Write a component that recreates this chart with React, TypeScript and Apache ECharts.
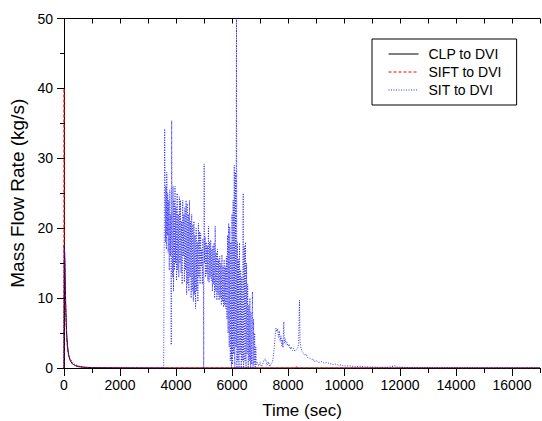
import React, { useEffect, useRef } from "react";
import * as echarts from "echarts";

// Time (sec) / mass flow (kg/s) pairs
const clpTime = [0, 8, 15, 25, 35, 45, 60, 80, 100, 130, 160, 200, 250, 300, 400, 500, 700, 1000, 2000, 4000, 8000, 12000, 17000];
const clpFlow = [0, 17.6, 17.4, 16.2, 14.5, 12, 9, 6.5, 4.5, 3, 2, 1.3, 0.9, 0.6, 0.35, 0.2, 0.1, 0.05, 0.02, 0, 0, 0, 0];

const siftTime = [0, 3, 6, 12, 20, 30, 45, 60, 80, 100, 130, 170, 220, 300, 400, 600, 1000, 3000, 8200, 8300, 8400, 12000, 17000];
const siftFlow = [0, 40, 17.5, 17, 16.5, 15, 12, 9, 6, 4, 2.6, 1.7, 1.1, 0.6, 0.35, 0.15, 0.05, 0.02, 0, 0.15, 0, 0, 0];

const sitTime = [
  0, 10, 20, 35, 50, 70, 90, 120, 150, 200, 260, 350, 500, 800, 1500, 3000, 3560, 3585,
  3595, 3610, 3625, 3640, 3655, 3670, 3690, 3705, 3720, 3740, 3760, 3780, 3800, 3815, 3830, 3845,
  3860, 3880, 3895, 3910, 3930, 3950, 3965, 3985, 4000, 4020, 4040, 4060, 4080, 4100, 4120, 4140,
  4160, 4180, 4200, 4220, 4240, 4260, 4280, 4300, 4320, 4340, 4360, 4380, 4400, 4420, 4440, 4460,
  4480, 4500, 4520, 4540, 4560, 4580, 4600, 4620, 4640, 4660, 4680, 4700, 4720, 4740, 4760, 4780,
  4800, 4820, 4840, 4860, 4880, 4900, 4920, 4940, 4960, 4980, 4990, 5000, 5005, 5020, 5040, 5060,
  5080, 5100, 5120, 5140, 5160, 5180, 5200, 5220, 5240, 5260, 5280, 5300, 5320, 5340, 5360, 5380,
  5400, 5420, 5440, 5460, 5480, 5500, 5520, 5540, 5560, 5580, 5600, 5620, 5640, 5660, 5680, 5700,
  5720, 5740, 5760, 5780, 5800, 5820, 5840, 5860, 5880, 5900, 5920, 5940, 5960, 5980, 6000, 6020,
  6040, 6060, 6080, 6100, 6120, 6140, 6160, 6175, 6190, 6210, 6230, 6250, 6270, 6290, 6310, 6330,
  6350, 6370, 6400, 6415, 6440, 6460, 6480, 6500, 6520, 6540, 6560, 6580, 6600, 6620, 6640, 6660,
  6680, 6700, 6730, 6750, 6770, 6790, 6810, 6830, 6850, 6870, 6900, 6950, 7000, 7050, 7100, 7150,
  7200, 7250, 7300, 7350, 7400, 7450, 7500, 7540, 7570, 7600, 7630, 7660, 7690, 7720, 7750, 7780,
  7800, 7820, 7850, 7870, 7900, 7930, 7960, 8000, 8040, 8080, 8120, 8160, 8200, 8250, 8300, 8350,
  8380, 8410, 8430, 8460, 8500, 8550, 8600, 8650, 8700, 8770, 8850, 8900, 8950, 9000, 9100, 9200,
  9300, 9400, 9500, 9600, 9700, 9800, 9900, 10000, 10200, 10400, 10600, 10800, 11000, 11300, 11600, 11800,
  11900, 12200, 12600, 13000, 13500, 14000, 15000, 16000, 17000,
];
const sitFlow = [
  0, 17.5, 16, 13, 10.5, 7.5, 5, 3.2, 2.2, 1.4, 1.1, 0.6, 0.3, 0.1, 0.03, 0, 0, 0,
  34.2, 27, 18, 26, 17, 28, 19, 25, 16.5, 24, 14, 25.5, 16, 22, 3.3, 35.4,
  20, 13, 26, 11, 24, 14, 26, 15, 23, 12.5, 25, 14, 22, 13, 24.5, 15,
  24, 13.6, 21, 12, 24, 16, 22, 12.3, 23, 14, 24, 10.5, 23.5, 12, 22, 11,
  24, 13, 21, 10, 22, 11, 20.5, 9.5, 21, 10.5, 19, 8.5, 20, 11, 18, 9.5,
  20.7, 13, 19.5, 12, 19.3, 14.5, 17, 12, 18.5, 11.7, 0, 0, 29.2, 15, 18.8, 13,
  18, 13.5, 17.5, 12.5, 20.3, 12.2, 18, 13, 18.3, 12.5, 17, 11, 17.5, 12, 17.9, 10,
  20.3, 11, 16.5, 9.7, 17, 10.5, 15.5, 9.7, 16, 10, 15, 9, 16.2, 9.5, 14.5, 8.7,
  15.5, 9, 14.5, 8.5, 16, 7, 19, 5, 20.7, 3, 20.2, 1, 18, 0, 22, 0.5,
  24, 2, 29, 0, 28, 3, 50, 0, 18, 1, 15.5, 0, 17.9, 2, 14, 0,
  13, 1, 25, 0, 17.4, 1, 18, 0, 15, 2, 12, 0, 9, 1, 10, 0,
  8, 0.5, 10.9, 0, 7, 0.5, 5, 0, 3, 0.5, 0.8, 0.3, 0.8, 0.2, 0.6, 1.2,
  1.3, 0.4, 0.9, 0.2, 0.6, 0.9, 2.5, 4.5, 5.7, 5.2, 5.6, 4.4, 5.3, 3.8, 4.6, 3.2,
  4, 2.9, 6.6, 3.6, 4.2, 3.4, 3.7, 3.1, 3.4, 2.7, 3, 2.5, 2.8, 2.4, 2.6, 2.9,
  3.5, 9.7, 3.8, 2.9, 2.4, 2.1, 1.8, 2, 1.5, 1.4, 1.2, 1.3, 0.9, 1.1, 0.8, 0.9,
  0.7, 0.8, 0.6, 0.5, 0.55, 0.4, 0.45, 0.3, 0.3, 0.2, 0.25, 0.15, 0.15, 0.1, 0.12, 0.3,
  0.15, 0.08, 0.05, 0.05, 0.03, 0.04, 0.02, 0.02, 0.02,
];

const seriesNames = ["CLP to DVI", "SIFT to DVI", "SIT to DVI"];
const xTitle = "Time (sec)";
const yTitle = "Mass Flow Rate (kg/s)";

const FONT = "'Liberation Sans', Arial, sans-serif";

const pair = (t: number[], v: number[]) => t.map((x, i) => [x, v[i]]);

export default function App() {
  const ref = useRef<HTMLDivElement>(null);
  useEffect(() => {
    if (!ref.current) return;
    const chart = echarts.init(ref.current, null, { renderer: "svg" });
    const axisLine = { show: true, lineStyle: { color: "#000", width: 1 } };
    chart.setOption({
      animation: false,
      backgroundColor: "#fff",
      grid: { left: 64, right: 2, top: 18.5, bottom: 53, containLabel: false, outerBoundsMode: "none" },
      legend: {
        orient: "vertical",
        left: 372,
        top: 39,
        padding: [8, 15, 8, 16],
        itemGap: 4,
        itemWidth: 30,
        itemHeight: 12,
        borderColor: "#000",
        borderWidth: 1,
        borderRadius: 0,
        backgroundColor: "#fff",
        itemStyle: { opacity: 0 },
        lineStyle: { width: 1 },
        textStyle: { fontSize: 14, fontFamily: FONT, color: "#000", padding: [0, 0, 0, 5] },
        data: seriesNames,
      },
      xAxis: [
        {
          type: "value", min: 0, max: 17000, interval: 2000, position: "bottom",
          axisLine,
          axisTick: { show: true, inside: false, length: 8, lineStyle: { color: "#000" } },
          axisLabel: {
            show: true, margin: 10, fontSize: 14, fontFamily: FONT, color: "#000", showMaxLabel: false,
            formatter: (v: number) => String(v),
          },
          splitLine: { show: false },
          name: xTitle, nameLocation: "middle", nameGap: 34,
          nameTextStyle: { fontSize: 17, fontFamily: FONT, color: "#000" },
        },
        {
          type: "value", min: 0, max: 17000, interval: 1000, position: "bottom",
          axisLine,
          axisTick: { show: true, inside: false, length: 5, lineStyle: { color: "#000" } },
          axisLabel: { show: false }, splitLine: { show: false },
        },
        {
          type: "value", min: 0, max: 17000, interval: 1000, position: "top",
          axisLine,
          axisTick: { show: true, inside: true, length: 5, lineStyle: { color: "#000" } },
          axisLabel: { show: false }, splitLine: { show: false },
        },
      ],
      yAxis: [
        {
          type: "value", min: 0, max: 50, interval: 10, position: "left",
          axisLine,
          axisTick: { show: true, inside: false, length: 7, lineStyle: { color: "#000" } },
          minorTick: { show: true, splitNumber: 2, length: 4, lineStyle: { color: "#000" } },
          axisLabel: { show: true, margin: 11, fontSize: 14, fontFamily: FONT, color: "#000" },
          splitLine: { show: false },
          name: yTitle, nameLocation: "middle", nameGap: 37, nameRotate: 90,
          nameTextStyle: { fontSize: 19, fontFamily: FONT, color: "#000" },
        },
        {
          type: "value", min: 0, max: 50, interval: 10, position: "right",
          axisLine,
          axisTick: { show: true, inside: true, length: 7, lineStyle: { color: "#000" } },
          minorTick: { show: true, splitNumber: 2, length: 4, lineStyle: { color: "#000" } },
          axisLabel: { show: false }, splitLine: { show: false },
        },
      ],
      series: [
        {
          name: seriesNames[0], type: "line", xAxisIndex: 0, yAxisIndex: 0,
          data: pair(clpTime, clpFlow), symbol: "none", showSymbol: false,
          color: "#000", lineStyle: { color: "#000", width: 1, type: "solid" },
        },
        {
          name: seriesNames[1], type: "line", xAxisIndex: 0, yAxisIndex: 0,
          data: pair(siftTime, siftFlow), symbol: "none", showSymbol: false,
          color: "#ff0000", lineStyle: { color: "#ff0000", width: 1, type: [3, 2] },
        },
        {
          name: seriesNames[2], type: "line", xAxisIndex: 0, yAxisIndex: 0,
          data: pair(sitTime, sitFlow), symbol: "none", showSymbol: false,
          color: "#0000ff", lineStyle: { color: "#0000ff", width: 1, type: [1, 1.5], opacity: 0.8 },
        },
      ],
    });
    return () => chart.dispose();
  }, []);
  return (
    <div
      ref={ref}
      style={{ position: "fixed", left: 0, top: 0, width: 542, height: 421, background: "#fff" }}
    />
  );
}
